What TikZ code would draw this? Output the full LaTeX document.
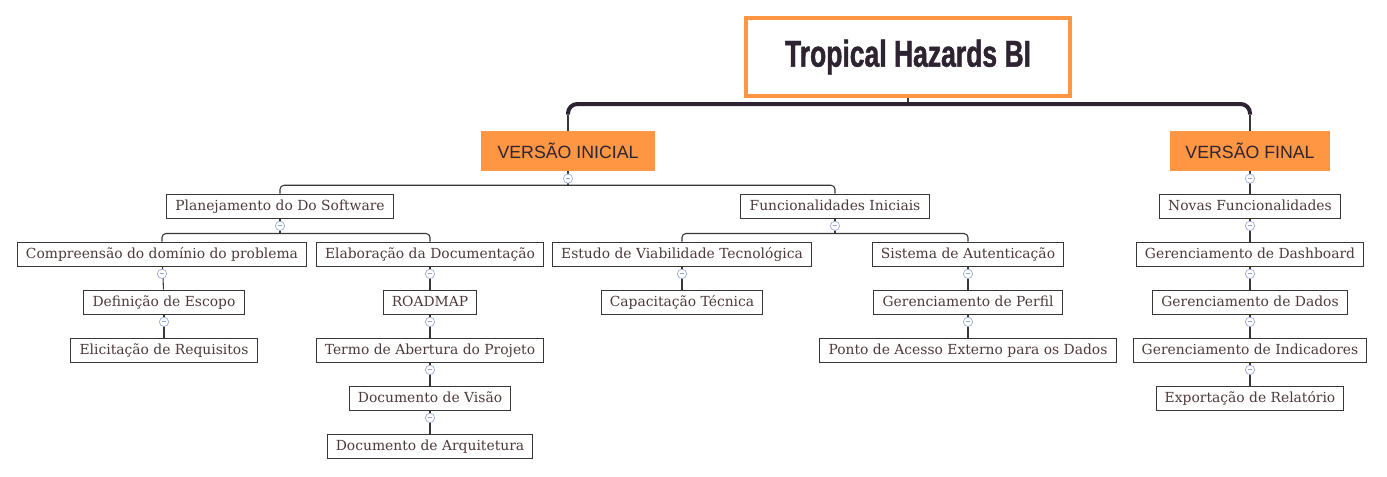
\documentclass[tikz,border=0pt]{standalone}
\usepackage{fontspec}
\setmainfont{DejaVu Serif}
\newfontfamily\titlefont{Liberation Sans}[FakeStretch=0.71, BoldFeatures={FakeBold=1.2}]
\newfontfamily\versfont{Liberation Sans}
\usetikzlibrary{positioning}
\definecolor{hazorange}{RGB}{255,150,68}
\definecolor{hazdark}{RGB}{46,35,48}
\definecolor{hazink}{RGB}{78,58,58}
\definecolor{hazline}{RGB}{55,55,55}
\definecolor{hazfold}{RGB}{150,172,222}
\tikzset{
    topic/.style={draw=hazline, line width=0.75pt, fill=white, text=hazink,
        font=\fontsize{10.4}{12}\selectfont, inner xsep=6.5pt, inner ysep=0pt,
        minimum height=18pt, text height=8.3pt, text depth=1.7pt},
    version/.style={fill=hazorange, text=hazdark, font=\versfont\fontsize{13.3}{15}\selectfont,
        inner xsep=10pt, minimum height=30pt, minimum width=131pt},
    link/.style={draw=hazline, line width=0.8pt},
    bar/.style={draw=hazdark, line width=3pt, rounded corners=7pt},
    fold/.style={circle, draw=hazfold, fill=white, line width=0.5pt, minimum size=7pt, inner sep=0pt}
}
\begin{document}
\begin{tikzpicture}[x=0.75pt, y=-0.75pt]
    \useasboundingbox (0,0) rectangle (1387,476);

    % Root
    \node[draw=hazorange, line width=3pt, minimum width=243pt, minimum height=58pt,
        text=hazdark, font=\titlefont\bfseries\fontsize{28}{30}\selectfont] (root) at (908,57) {Tropical Hazards BI};

    % Versions
    \node[version] (vi) at (568,151) {VERSÃO INICIAL};
    \node[version, minimum width=120pt] (vf) at (1250,151) {VERSÃO FINAL};

    % Versão inicial
    \node[topic] (plan) at (280,206) {Planejamento do Do Software};
    \node[topic] (func) at (835,206) {Funcionalidades Iniciais};
    \node[topic] (comp) at (162,254) {Compreensão do domínio do problema};
    \node[topic] (elab) at (430,254) {Elaboração da Documentação};
    \node[topic] (escopo) at (164,302) {Definição de Escopo};
    \node[topic] (requis) at (164,350) {Elicitação de Requisitos};
    \node[topic] (roadmap) at (430,302) {ROADMAP};
    \node[topic] (termo) at (430,350) {Termo de Abertura do Projeto};
    \node[topic] (visao) at (430,398) {Documento de Visão};
    \node[topic] (arq) at (430,446) {Documento de Arquitetura};
    \node[topic] (estudo) at (682,254) {Estudo de Viabilidade Tecnológica};
    \node[topic] (sist) at (968,254) {Sistema de Autenticação};
    \node[topic] (capac) at (682,302) {Capacitação Técnica};
    \node[topic] (perfil) at (968,302) {Gerenciamento de Perfil};
    \node[topic] (ponto) at (968,350) {Ponto de Acesso Externo para os Dados};

    % Versão final
    \node[topic] (novas) at (1250,206) {Novas Funcionalidades};
    \node[topic] (dash) at (1250,254) {Gerenciamento de Dashboard};
    \node[topic] (dados) at (1250,302) {Gerenciamento de Dados};
    \node[topic] (indic) at (1250,350) {Gerenciamento de Indicadores};
    \node[topic] (export) at (1250,398) {Exportação de Relatório};

    % Root connections
    \coordinate (rj) at (908,104);
    \draw[link] (root.south) -- (rj);
    \draw[bar] ([yshift=12pt]vi.north) |- (rj) -| ([yshift=12pt]vf.north);
    \draw[link] (vi.north) -- ++(0,-16);
    \draw[link] (vf.north) -- ++(0,-16);

    % Brackets
    \draw[link] (vi.south) -- ++(0,14) coordinate (vij);
    \draw[link, rounded corners=3pt] (vij) -| (plan.north);
    \draw[link, rounded corners=3pt] (vij) -| (func.north);
    \draw[link] (plan.south) -- ++(0,15) coordinate (planj);
    \draw[link, rounded corners=3pt] (planj) -| (comp.north);
    \draw[link, rounded corners=3pt] (planj) -| (elab.north);
    \draw[link] (func.south) -- ++(0,15) coordinate (funcj);
    \draw[link, rounded corners=3pt] (funcj) -| (estudo.north);
    \draw[link, rounded corners=3pt] (funcj) -| (sist.north);

    % Chains
    \draw[link] (comp) -- (escopo);
    \draw[link] (escopo) -- (requis);
    \draw[link] (elab) -- (roadmap);
    \draw[link] (roadmap) -- (termo);
    \draw[link] (termo) -- (visao);
    \draw[link] (visao) -- (arq);
    \draw[link] (estudo) -- (capac);
    \draw[link] (sist) -- (perfil);
    \draw[link] (perfil) -- (ponto);
    \draw[link] (vf) -- (novas);
    \draw[link] (novas) -- (dash);
    \draw[link] (dash) -- (dados);
    \draw[link] (dados) -- (indic);
    \draw[link] (indic) -- (export);

    % Fold markers
    \foreach \n in {vi,vf,plan,func,comp,elab,escopo,roadmap,termo,visao,estudo,sist,perfil,novas,dash,dados,indic} {
        \node[fold] (f\n) at ([yshift=-5.5pt]\n.south) {};
        \draw[hazfold, line width=0.6pt] ([xshift=-1.8pt]f\n.center) -- ([xshift=1.8pt]f\n.center);
    }
\end{tikzpicture}
\end{document}
